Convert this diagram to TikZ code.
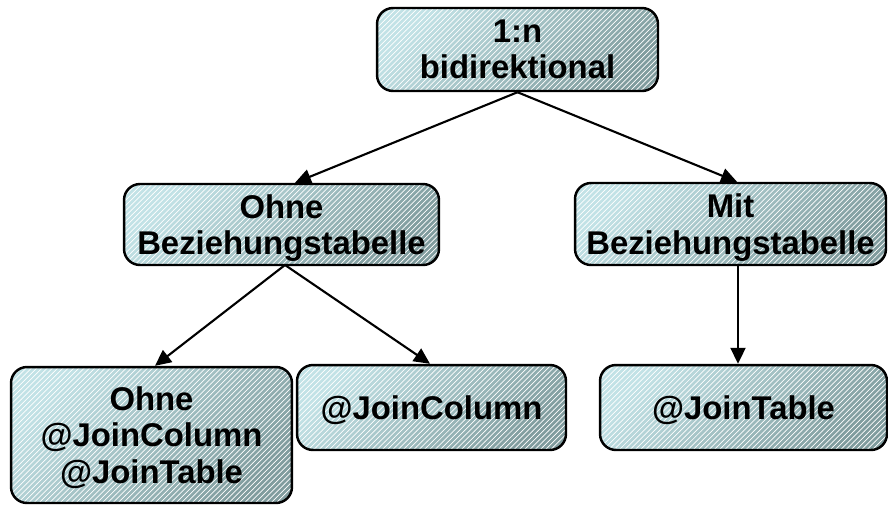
\documentclass[tikz,border=0pt]{standalone}
\usepackage{fontspec}
\setmainfont{Liberation Sans}
\usetikzlibrary{arrows.meta,patterns}
\definecolor{boxlight}{RGB}{194,226,230}
\definecolor{boxdark}{RGB}{128,156,158}
\tikzset{
  box/.style={draw=black, line width=1.4pt, rounded corners=0.32cm,
    preaction={fill opacity=1, top color=boxlight, bottom color=boxdark, shading angle=45},
    pattern=north east lines, pattern color=white, fill opacity=0.18,
    text opacity=1,
    align=center, inner sep=0pt, text depth=0pt,
    font=\fontsize{18.7}{20.6}\selectfont\bfseries},
  link/.style={line width=1.2pt, -{Triangle[length=0.32cm,width=0.3cm]}}
}
\begin{document}
\begin{tikzpicture}[x=0.02cm,y=-0.02cm]
  \useasboundingbox (0,0) rectangle (888,505);
  \node[box, minimum width=5.62cm, minimum height=1.66cm] (top) at (517.5,49.5) {1:n\\bidirektional};
  \node[box, minimum width=6.3cm, minimum height=1.62cm] (ohne) at (281.5,224.5) {Ohne\\Beziehungstabelle};
  \node[box, minimum width=6.22cm, minimum height=1.64cm] (mit) at (730.5,224) {Mit\\Beziehungstabelle};
  \node[box, text depth=-0.16cm, minimum width=5.62cm, minimum height=2.72cm] (ohnejc) at (151.5,435) {Ohne\\@JoinColumn\\@JoinTable};
  \node[box, minimum width=5.38cm, minimum height=1.7cm] (jc) at (431.5,407.5) {@JoinColumn};
  \node[box, minimum width=5.74cm, minimum height=1.7cm] (jt) at (743.5,407.5) {@JoinTable};
  \coordinate (topb) at (top.south);
  \draw[link] (topb) -- (ohne.north -| 295,0);
  \draw[link] (topb) -- (mit.north -| 737,0);
  \coordinate (ohneb) at (285,265);
  \draw[link] (ohneb) -- (ohnejc.north -| 155,0);
  \draw[link] (ohneb) -- (jc.north -| 430,0);
  \draw[link] (mit.south -| 738,0) -- (jt.north -| 738,0);
\end{tikzpicture}
\end{document}
